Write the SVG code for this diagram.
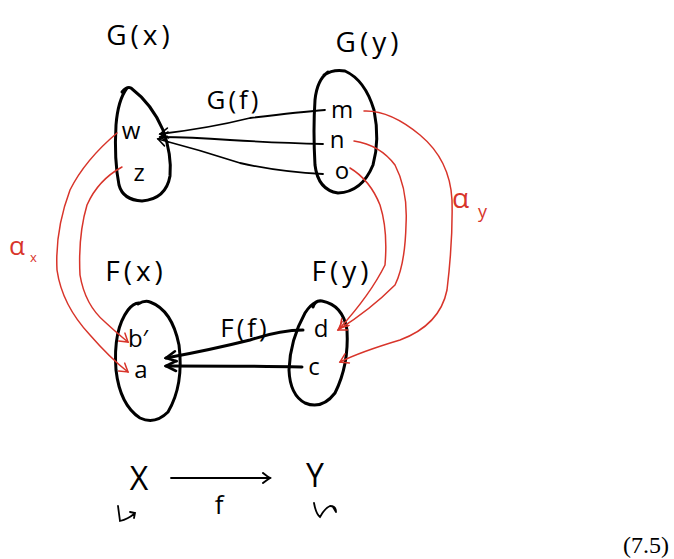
<svg xmlns="http://www.w3.org/2000/svg" width="674" height="559" viewBox="0 0 674 559">
<defs>
<marker id="ah" viewBox="0 0 12 12" refX="10" refY="6" markerWidth="12" markerHeight="12" markerUnits="userSpaceOnUse" orient="auto">
<path d="M2,1 L10,6 L2,11" fill="none" stroke="#000" stroke-width="1.6" stroke-linecap="round"/>
</marker>
<marker id="ahb" viewBox="0 0 14 14" refX="12" refY="7" markerWidth="14" markerHeight="14" markerUnits="userSpaceOnUse" orient="auto">
<path d="M2,2 L12,7 L2,12" fill="none" stroke="#000" stroke-width="2.6" stroke-linecap="round"/>
</marker>
<marker id="ahr" viewBox="0 0 12 12" refX="10" refY="6" markerWidth="12" markerHeight="12" markerUnits="userSpaceOnUse" orient="auto">
<path d="M2,1 L10,6 L2,11" fill="none" stroke="#d8342a" stroke-width="1.5" stroke-linecap="round"/>
</marker>
<marker id="ahf" viewBox="0 0 12 12" refX="10" refY="6" markerWidth="12" markerHeight="12" markerUnits="userSpaceOnUse" orient="auto">
<path d="M3,1 Q8,5 10,6 Q7,8 3,11" fill="none" stroke="#000" stroke-width="2" stroke-linecap="round"/>
</marker>
</defs>
<style>
.blob{fill:none;stroke:#000;stroke-width:3;stroke-linecap:round;stroke-linejoin:round}
.t{font-family:"Open Sans","Liberation Sans",sans-serif;fill:#000}
.lbl{font-size:28px;letter-spacing:4px}
.el{font-size:24px}
.red{fill:none;stroke:#d8342a;stroke-width:1.5;stroke-linecap:round}
.rt{font-family:"Open Sans","Liberation Sans",sans-serif;fill:#d8342a}
.blk{fill:none;stroke:#000;stroke-width:1.8;stroke-linecap:round}
.blk2{fill:none;stroke:#000;stroke-width:3;stroke-linecap:round}
</style>
<rect width="674" height="559" fill="#fff"/>

<g id="Gx">
<text class="t lbl" x="140" y="45" text-anchor="middle">G(x)</text>
<path class="blob" d="M122,92 Q127,86 131,88 Q152,104 163,130 Q172,155 170,176 Q166,199 142,201 Q123,200 119,185 Q114,160 116,125 Q118,100 127,88"/>
<text class="t el" x="131" y="139" text-anchor="middle">w</text>
<text class="t el" x="139" y="181" text-anchor="middle">z</text>
</g>

<g id="Gy">
<text class="t lbl" x="369" y="52" text-anchor="middle">G(y)</text>
<path class="blob" d="M324,75 Q333,69 345,71 Q365,80 374,110 Q380,140 373,165 Q362,192 338,193 Q318,190 315,165 Q313,130 315,100 Q317,80 328,72"/>
<text class="t el" x="342" y="118" text-anchor="middle">m</text>
<text class="t el" x="337" y="148" text-anchor="middle">n</text>
<text class="t el" x="342" y="179" text-anchor="middle">o</text>
</g>

<g id="Fx">
<text class="t lbl" x="136" y="281" text-anchor="middle">F(x)</text>
<path class="blob" d="M138,304 Q145,300 150,302 Q172,310 179,345 Q184,385 168,412 Q155,425 140,418 Q120,405 116,370 Q113,330 128,310 Q134,302 140,303"/>
<text class="t el" x="138" y="347" text-anchor="middle">b′</text>
<text class="t el" x="141" y="378" text-anchor="middle">a</text>
</g>

<g id="Fy">
<text class="t lbl" x="342" y="281" text-anchor="middle">F(y)</text>
<path class="blob" d="M313,307 Q315,300 322,301 Q343,305 347,330 Q349,365 335,393 Q322,410 305,403 Q290,395 289,370 Q290,340 305,313 Q310,305 316,302"/>
<text class="t el" x="321" y="337" text-anchor="middle">d</text>
<text class="t el" x="314" y="375" text-anchor="middle">c</text>
</g>

<g id="connectors">
<text class="t" x="234" y="109" font-size="26" letter-spacing="3" text-anchor="middle">G(f)</text>
<path class="blk" d="M325,110 Q300,112 250,118 Q210,128 160,134" marker-end="url(#ah)"/>
<path class="blk" d="M323,144 Q280,143 230,140 Q190,137 160,137" marker-end="url(#ah)"/>
<path class="blk" d="M323,174 Q280,172 240,163 Q200,150 158,139" marker-end="url(#ah)"/>

<text class="t" x="245" y="337" font-size="26" letter-spacing="3" text-anchor="middle">F(f)</text>
<path class="blk2" d="M303,330 Q280,330 250,340 Q210,350 166,358" marker-end="url(#ahb)"/>
<path class="blk2" d="M302,367 Q250,366 166,366" marker-end="url(#ahb)"/>

<path class="red" d="M117,133 Q85,160 70,190 Q55,230 57,270 Q62,305 90,335 Q110,358 128,372" marker-end="url(#ahr)"/>
<path class="red" d="M122,167 Q98,180 87,205 Q78,235 80,275 Q85,305 105,322 Q118,334 128,342" marker-end="url(#ahr)"/>
<text class="rt" x="9" y="255" font-size="26">α</text>
<text class="rt" x="30" y="262" font-size="13">x</text>

<path class="red" d="M364,111 Q390,110 420,135 Q450,160 452,200 Q453,240 447,290 Q440,325 400,340 Q360,352 340,362" marker-end="url(#ahr)"/>
<path class="red" d="M354,141 Q380,145 395,165 Q408,190 406,225 Q405,265 395,285 Q370,310 338,330" marker-end="url(#ahr)"/>
<path class="red" d="M350,168 Q370,180 380,205 Q388,230 385,265 Q370,295 340,328" marker-end="url(#ahr)"/>
<text class="rt" x="452" y="208" font-size="28">α</text>
<text class="rt" x="478" y="218" font-size="18">y</text>

<text class="t" x="139" y="490" font-size="32" text-anchor="middle">X</text>
<text class="t" x="315" y="487" font-size="32" text-anchor="middle">Y</text>
<path class="blk" d="M171,478 L270,478" marker-end="url(#ahf)"/>
<text class="t" x="219" y="514" font-size="26" text-anchor="middle">f</text>
<path class="blk" d="M118,506 L120,521 Q128,519 134,514 M130,512 L135,513 L134,518"/>
<path class="blk" d="M314,503 Q316,514 320,517 Q325,508 330,506 Q336,506 336,512 M333,507 L336,512"/>
</g>

<text x="646" y="553" font-family="Liberation Serif,serif" font-size="24" text-anchor="middle">(7.5)</text>
</svg>
